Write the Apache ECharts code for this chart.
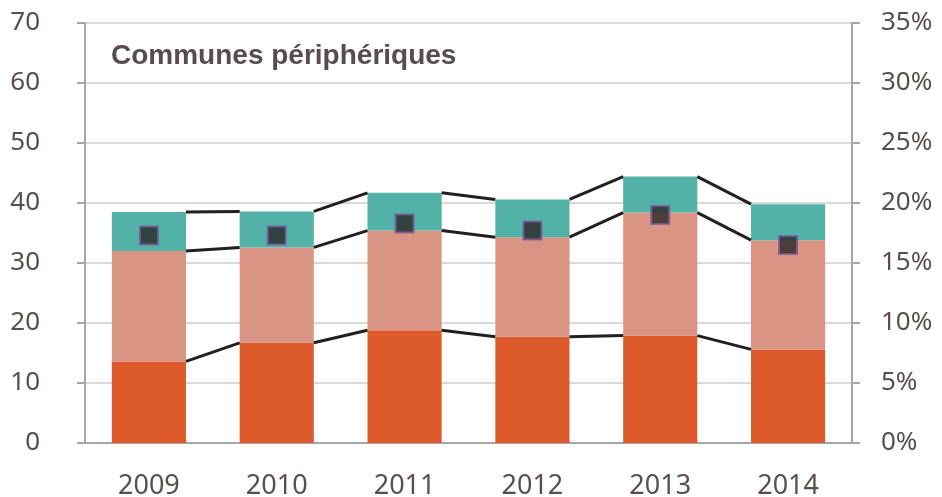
<!DOCTYPE html>
<html>
<head>
<meta charset="utf-8">
<script src="https://cdn.jsdelivr.net/npm/echarts@6/dist/echarts.min.js"></script>
<style>
  html, body { margin: 0; padding: 0; background: #fff; }
  #chart { width: 942px; height: 497px; }
</style>
</head>
<body>
<div id="chart"></div>
<script>
// années
var years = ['2009', '2010', '2011', '2012', '2013', '2014'];
// segments empilés (axe gauche)
var partBas = [13.6, 16.7, 18.8, 17.7, 17.9, 15.6];
var partMilieu = [18.4, 15.9, 16.6, 16.6, 20.5, 18.2];
var partHaut = [6.5, 6.0, 6.3, 6.3, 6.0, 6.0];
// taux (axe droit, en %)
var taux = [17.3, 17.3, 18.3, 17.7, 19.0, 16.5];

var textColor = '#594f4f';
var font = 'Noto Sans';

// lignes de liaison entre les piles (comme les "lignes de série" d'Excel)
var liaisons = [];
for (var i = 0; i < years.length - 1; i++) {
  var a1 = partBas[i], a2 = a1 + partMilieu[i], a3 = a2 + partHaut[i];
  var b1 = partBas[i + 1], b2 = b1 + partMilieu[i + 1], b3 = b2 + partHaut[i + 1];
  liaisons.push([i, a1, a2, a3, b1, b2, b3]);
}

var chart = echarts.init(document.getElementById('chart'));
chart.setOption({
  animation: false,
  textStyle: { fontFamily: font },
  title: {
    text: 'Communes périphériques',
    left: 106, top: 37,
    textStyle: { fontFamily: 'Liberation Sans', fontWeight: 'bold', fontSize: 28, color: '#574d4e' }
  },
  grid: { left: 85, right: 90, top: 23, bottom: 54, outerBoundsMode: 'none' },
  xAxis: {
    type: 'category',
    data: years,
    axisLine: { lineStyle: { color: '#a6a6a6', width: 2 } },
    axisTick: { length: 10, lineStyle: { color: '#a6a6a6', width: 2 } },
    axisLabel: { color: textColor, fontSize: 27, margin: 30 }
  },
  yAxis: [
    {
      type: 'value', min: 0, max: 70, interval: 10,
      axisLine: { show: true, lineStyle: { color: '#a6a6a6', width: 2 } },
      axisTick: { show: true, length: 8, lineStyle: { color: '#a6a6a6', width: 2 } },
      splitLine: { lineStyle: { color: '#d9d9d9', width: 2 } },
      axisLabel: { color: textColor, fontSize: 26, margin: 45 }
    },
    {
      type: 'value', min: 0, max: 35, interval: 5,
      axisLine: { show: true, lineStyle: { color: '#a6a6a6', width: 2 } },
      axisTick: { show: true, length: 8, lineStyle: { color: '#a6a6a6', width: 2 } },
      splitLine: { show: false },
      axisLabel: { color: textColor, fontSize: 26, margin: 29, formatter: '{value}%' }
    }
  ],
  series: [
    {
      type: 'bar', stack: 'total', data: partBas, barWidth: '58%',
      itemStyle: { color: '#dd5a2c' }
    },
    {
      type: 'bar', stack: 'total', data: partMilieu,
      itemStyle: { color: '#d99484' }
    },
    {
      type: 'bar', stack: 'total', data: partHaut,
      itemStyle: { color: '#53b2a8' }
    },
    {
      type: 'custom',
      data: liaisons,
      z: 3,
      renderItem: function (params, api) {
        var idx = api.value(0);
        var demi = api.size([1, 0])[0] * 0.29;
        var lignes = [];
        for (var k = 1; k <= 3; k++) {
          var p1 = api.coord([idx, api.value(k)]);
          var p2 = api.coord([idx + 1, api.value(k + 3)]);
          lignes.push({
            type: 'line',
            shape: { x1: p1[0] + demi, y1: p1[1], x2: p2[0] - demi, y2: p2[1] },
            style: { stroke: '#231f20', lineWidth: 3 }
          });
        }
        return { type: 'group', children: lignes };
      }
    },
    {
      type: 'scatter', yAxisIndex: 1, data: taux,
      symbol: 'rect', symbolSize: 18, z: 5,
      itemStyle: { color: '#2b2627', borderColor: '#7b5a9e', borderWidth: 2 }
    }
  ]
});
</script>
</body>
</html>
